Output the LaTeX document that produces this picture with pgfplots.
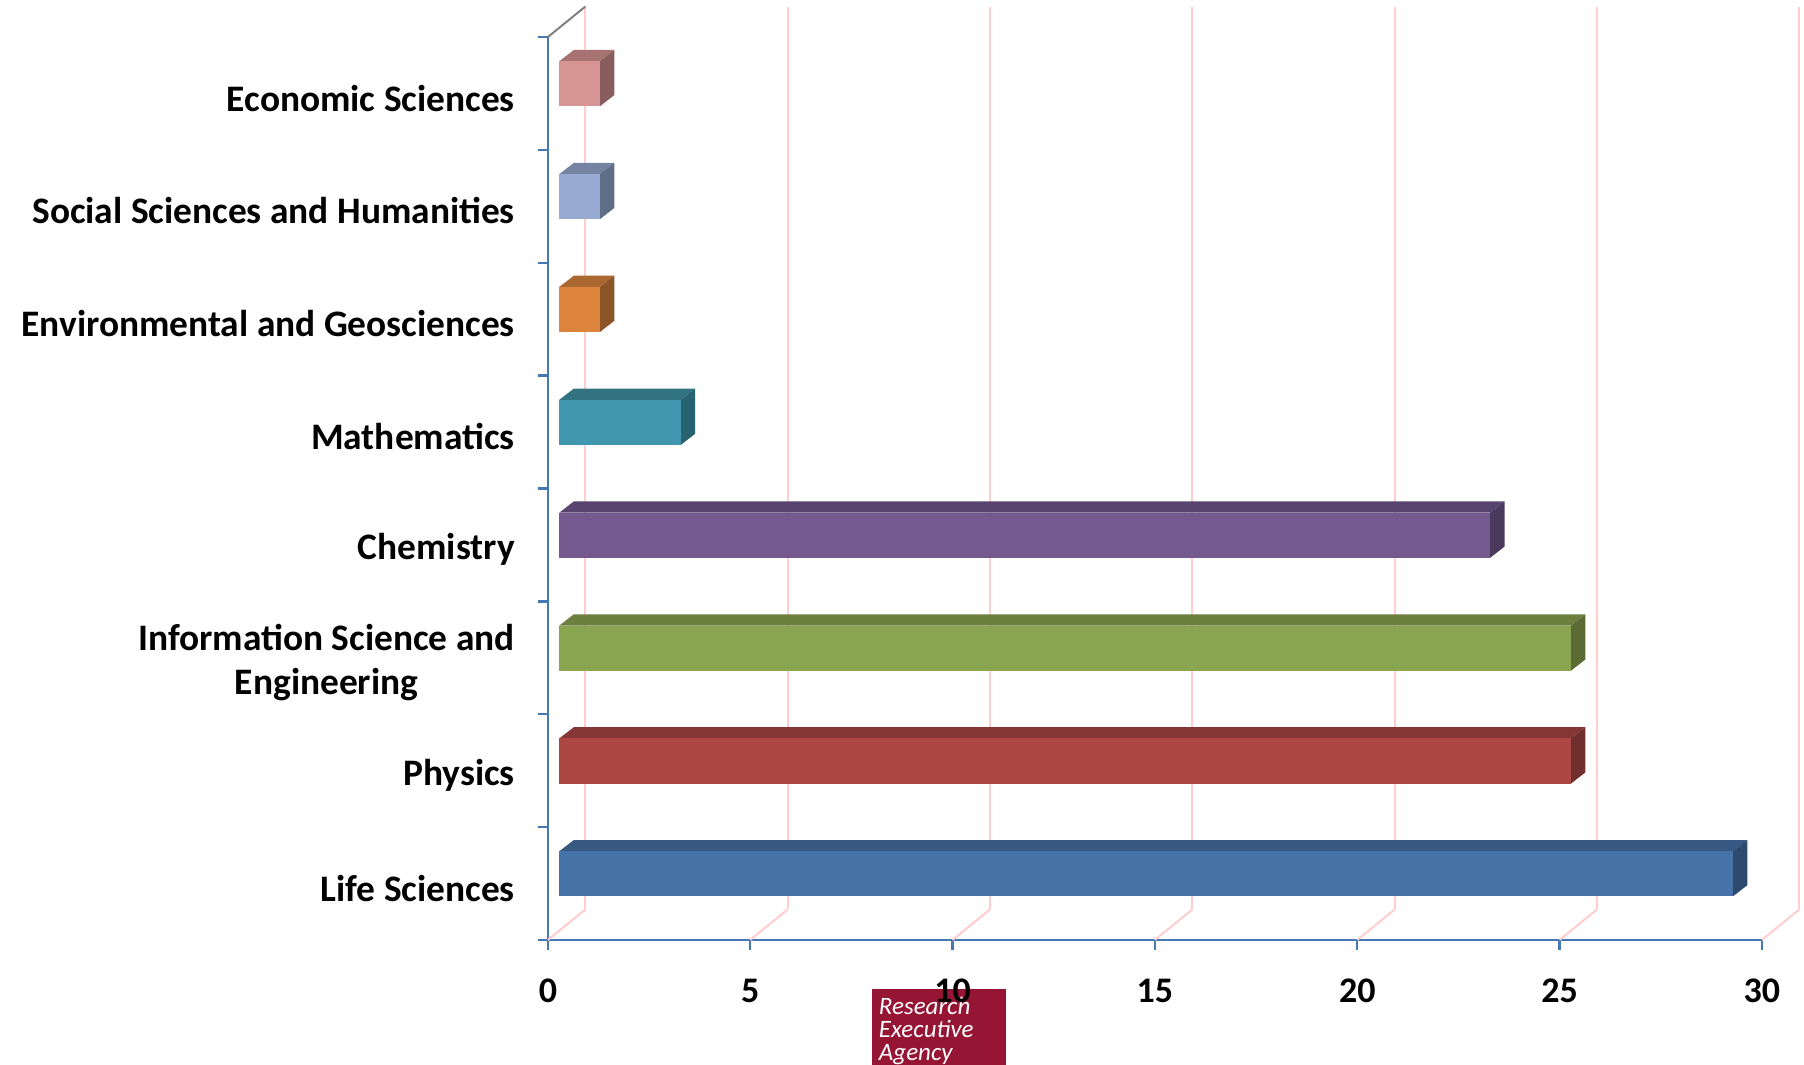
\documentclass[border=0pt]{standalone}
\usepackage{pgfplots}
\pgfplotsset{compat=1.18}
\usepackage{fontspec}
\setmainfont{Carlito}
\definecolor{gridc}{RGB}{255,205,205}
\definecolor{axblue}{RGB}{70,120,180}
\definecolor{logo}{RGB}{150,20,52}
% bar colours: front, top, side
\definecolor{ecoF}{RGB}{214,148,147}\definecolor{ecoT}{RGB}{166,115,114}\definecolor{ecoS}{RGB}{135,94,93}
\definecolor{socF}{RGB}{152,170,210}\definecolor{socT}{RGB}{117,132,163}\definecolor{socS}{RGB}{95,110,135}
\definecolor{envF}{RGB}{221,132,60}\definecolor{envT}{RGB}{170,103,48}\definecolor{envS}{RGB}{140,85,40}
\definecolor{matF}{RGB}{65,151,175}\definecolor{matT}{RGB}{50,115,130}\definecolor{matS}{RGB}{40,98,112}
\definecolor{cheF}{RGB}{115,89,141}\definecolor{cheT}{RGB}{88,68,110}\definecolor{cheS}{RGB}{74,57,93}
\definecolor{infF}{RGB}{138,165,79}\definecolor{infT}{RGB}{107,128,62}\definecolor{infS}{RGB}{90,108,52}
\definecolor{phyF}{RGB}{172,71,68}\definecolor{phyT}{RGB}{133,55,53}\definecolor{phyS}{RGB}{112,46,44}
\definecolor{lifF}{RGB}{69,114,167}\definecolor{lifT}{RGB}{54,88,130}\definecolor{lifS}{RGB}{45,74,110}
\newcommand\tdbar[5]{%
  \pgfmathsetmacro\yb{#1+0.385}\pgfmathsetmacro\yt{#1+0.785}%
  \pgfmathsetmacro\ybb{#1+0.485}\pgfmathsetmacro\ytb{#1+0.885}%
  \pgfmathsetmacro\xe{#2+0.28}\pgfmathsetmacro\xeb{#2+0.64}%
  \addplot[fill=#4,draw=none] coordinates {(0.28,\yt) (\xe,\yt) (\xeb,\ytb) (0.64,\ytb)} --cycle;
  \addplot[fill=#5,draw=none] coordinates {(\xe,\yb) (\xeb,\ybb) (\xeb,\ytb) (\xe,\yt)} --cycle;
  \addplot[fill=#3,draw=none] coordinates {(0.28,\yb) (\xe,\yb) (\xe,\yt) (0.28,\yt)} --cycle;
}
\begin{document}
\begin{tikzpicture}
\begin{axis}[
  set layers,
  x=20.233pt, y=56.43pt,
  xmin=0, xmax=30, ymin=0, ymax=8,
  clip=false,
  axis x line=bottom, axis y line=left,
  axis line style={-, axblue, line width=1.3pt},
  xtick={0,5,...,30},
  tick style={axblue, line width=1.2pt},
  tick align=outside,
  major tick length=5pt,
  xticklabel style={font=\fontsize{18}{20}\selectfont\bfseries, anchor=center, yshift=-20.5pt},
  /pgf/number format/assume math mode=true,
  ytick={0,1,...,8},
  yticklabels={},
  extra y ticks={0.5,1.5,...,7.5},
  extra y tick labels={Life Sciences, Physics, {Information Science and\\Engineering}, Chemistry, Mathematics, Environmental and Geosciences, Social Sciences and Humanities, Economic Sciences},
  extra y tick style={major tick length=0pt, tick style={draw=none}},
  yticklabel style={font=\fontsize{18.7}{22}\selectfont\bfseries, align=center, anchor=east, xshift=-13pt, yshift=-2.3pt},
]
% bounding box of whole picture
\path (axis cs:-13.54,-1.107) rectangle (axis cs:31.04,8.328);
% back wall and floor grid
\pgfplotsinvokeforeach{0,5,...,30}{
  \addplot[gridc, line width=1pt] coordinates {(#1+0.925,0.27) (#1+0.925,8.27)};
  \addplot[gridc, line width=1pt] coordinates {(#1,0) (#1+0.925,0.27)};
}
\addplot[gray, line width=1pt] coordinates {(0,8) (0.925,8.27)};
% bars: index, value, colours
\tdbar{7}{1}{ecoF}{ecoT}{ecoS}
\tdbar{6}{1}{socF}{socT}{socS}
\tdbar{5}{1}{envF}{envT}{envS}
\tdbar{4}{3}{matF}{matT}{matS}
\tdbar{3}{23}{cheF}{cheT}{cheS}
\tdbar{2}{25}{infF}{infT}{infS}
\tdbar{1}{25}{phyF}{phyT}{phyS}
\tdbar{0}{29}{lifF}{lifT}{lifS}
% logo
\begin{pgfonlayer}{axis background}
\fill[logo] (axis cs:8.006,-0.434) rectangle (axis cs:11.32,-1.107);
\node[anchor=north west, text=white, align=left, font=\fontsize{12.5}{11.5}\selectfont\itshape, inner sep=0pt]
  at (axis cs:8.17,-0.505) {Research\\Executive\\Agency};
\end{pgfonlayer}
\end{axis}
\end{tikzpicture}
\end{document}
